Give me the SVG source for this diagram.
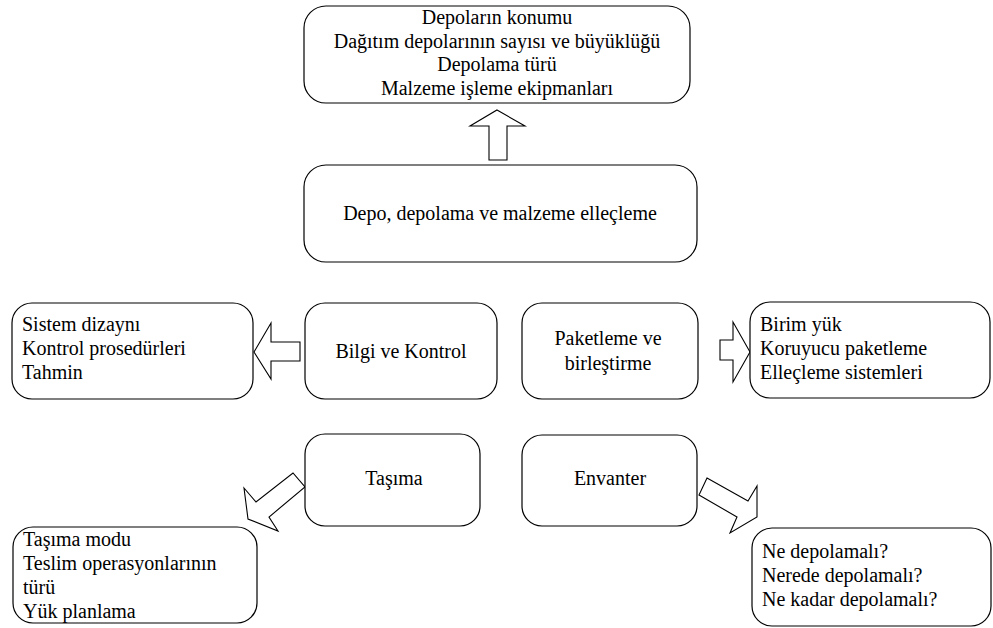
<svg xmlns="http://www.w3.org/2000/svg" width="993" height="628" viewBox="0 0 993 628">
<style>
.box{fill:#fff;stroke:#000;stroke-width:1.2}
.arr{fill:#fff;stroke:#000;stroke-width:1.1;stroke-linejoin:miter}
text{font-family:'Liberation Serif','Tinos','Times New Roman','DejaVu Serif',serif;font-size:20px;fill:#000}
.c{text-anchor:middle}
</style>
<rect width="993" height="628" fill="#fff"/>
<g id="connectors">
<polygon class="arr" points="497,110 525,126 507,126 507,160 489,160 489,126 470,126"/>
<polygon class="arr" points="254,352 271,323 271,342 300,342 300,361 271,361 271,379"/>
<polygon class="arr" points="750,352 733,322 733,340 720,340 720,360 733,360 733,382"/>
<polygon class="arr" points="244,488 256,502 293,473 305,487 269,517 278,531 248,519"/>
<polygon class="arr" points="707,478 748,501 757,486 757,517 730,533 737,517 699,495"/>
</g>
<g id="node-top">
<rect class="box" x="304" y="6" width="386" height="97" rx="22"/>
<text class="c" x="497" y="24">Depoların konumu</text>
<text class="c" x="497" y="48">Dağıtım depolarının sayısı ve büyüklüğü</text>
<text class="c" x="497" y="71">Depolama türü</text>
<text class="c" x="497" y="95">Malzeme işleme ekipmanları</text>
</g>
<g id="node-depo">
<rect class="box" x="304" y="165" width="393" height="97" rx="22"/>
<text class="c" x="500" y="220">Depo, depolama ve malzeme elleçleme</text>
</g>
<g id="node-sistem">
<rect class="box" x="12" y="303" width="241" height="96" rx="20"/>
<text x="22" y="331">Sistem dizaynı</text>
<text x="22" y="355">Kontrol prosedürleri</text>
<text x="22" y="379">Tahmin</text>
</g>
<g id="node-bilgi">
<rect class="box" x="305" y="303" width="192" height="96" rx="20"/>
<text class="c" x="401" y="358">Bilgi ve Kontrol</text>
</g>
<g id="node-paketleme">
<rect class="box" x="522" y="303" width="176" height="96" rx="20"/>
<text class="c" x="608" y="345">Paketleme ve</text>
<text class="c" x="608" y="370">birleştirme</text>
</g>
<g id="node-birim">
<rect class="box" x="750" y="302" width="240" height="96" rx="20"/>
<text x="760" y="331">Birim yük</text>
<text x="760" y="355">Koruyucu paketleme</text>
<text x="760" y="379">Elleçleme sistemleri</text>
</g>
<g id="node-tasima">
<rect class="box" x="305" y="434" width="175" height="92" rx="20"/>
<text class="c" x="394" y="485">Taşıma</text>
</g>
<g id="node-envanter">
<rect class="box" x="522" y="435" width="175" height="91" rx="20"/>
<text class="c" x="610" y="485">Envanter</text>
</g>
<g id="node-tasima-modu">
<rect class="box" x="13" y="527" width="244" height="96" rx="20"/>
<text x="23" y="546">Taşıma modu</text>
<text x="23" y="570">Teslim operasyonlarının</text>
<text x="23" y="594">türü</text>
<text x="23" y="618">Yük planlama</text>
</g>
<g id="node-ne">
<rect class="box" x="752" y="528" width="239" height="98" rx="20"/>
<text x="762" y="558">Ne depolamalı?</text>
<text x="762" y="582">Nerede depolamalı?</text>
<text x="762" y="606">Ne kadar depolamalı?</text>
</g>
</svg>
